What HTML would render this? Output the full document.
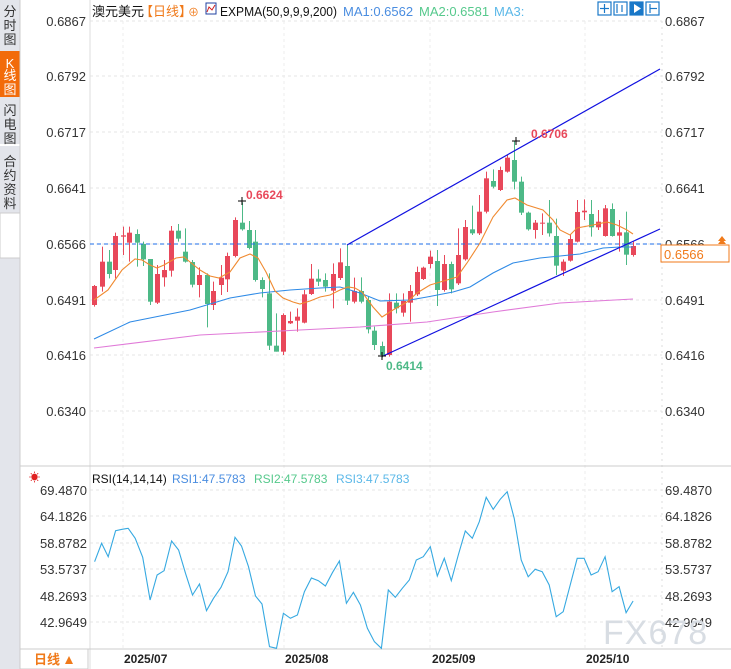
<!DOCTYPE html>
<html><head><meta charset="utf-8"><style>
body{margin:0;width:731px;height:669px;overflow:hidden;background:#fff;font-family:"Liberation Sans","Noto Sans CJK SC",sans-serif;}
svg{position:absolute;left:0;top:0}
</style></head><body>
<svg id="s" width="731" height="669" xmlns="http://www.w3.org/2000/svg" font-family="Liberation Sans, Noto Sans CJK SC, sans-serif">
<rect x="0" y="0" width="20" height="669" fill="#e3e5eb"/>
<rect x="0" y="70" width="20" height="2" fill="#fff"/>
<rect x="0" y="51" width="20" height="46" fill="#f26b0a"/>
<rect x="0" y="144" width="20" height="2" fill="#fff"/>
<rect x="0" y="213" width="20" height="45" fill="#fff" stroke="#ccc"/>
<g font-size="13" fill="#333" text-anchor="middle">
<text x="10" y="16">分</text><text x="10" y="30">时</text><text x="10" y="44">图</text>
<text x="10" y="68" fill="#fff">K</text><text x="10" y="80" fill="#fff">线</text><text x="10" y="94" fill="#fff">图</text>
<text x="10" y="115">闪</text><text x="10" y="129">电</text><text x="10" y="143">图</text>
<text x="10" y="166">合</text><text x="10" y="180">约</text><text x="10" y="194">资</text><text x="10" y="208">料</text>
</g>
<line x1="20" y1="0" x2="20" y2="669" stroke="#ccc"/>
<g id="g"></g>
<text x="92" y="16" font-size="13" fill="#111">澳元美元</text>
<text x="140" y="16" font-size="13" fill="#f07a1a">【日线】</text>
<text x="188" y="16" font-size="11" fill="#f07a1a">⊕</text>
<rect x="206" y="3" width="10" height="11" fill="#fff" stroke="#2040a0"/><polyline points="207,12 209,7 212,10 215,5" fill="none" stroke="#d02020"/>
<text x="220" y="16" font-size="13" fill="#111" textLength="117" lengthAdjust="spacingAndGlyphs">EXPMA(50,9,9,9,200)</text>
<text x="343" y="16" font-size="13" fill="#4a8de0">MA1:0.6562</text>
<text x="419" y="16" font-size="13" fill="#56c98c">MA2:0.6581</text>
<text x="494" y="16" font-size="13" fill="#5bb8e8">MA3:</text>
<g fill="none" stroke="#1a78c8" stroke-width="1.2">
<rect x="598" y="2" width="13" height="13"/><rect x="614" y="2" width="13" height="13"/><rect x="630" y="2" width="13" height="13" fill="#1a78c8"/><rect x="646" y="2" width="13" height="13"/>
</g>
<g stroke="#1a78c8" stroke-width="1.2"><line x1="604.5" y1="4" x2="604.5" y2="13"/><line x1="600" y1="8.5" x2="609" y2="8.5"/><line x1="617" y1="4" x2="617" y2="13"/><line x1="622" y1="5" x2="622" y2="12"/><line x1="650" y1="4" x2="650" y2="13"/><line x1="650" y1="8.5" x2="657" y2="8.5"/></g>
<polygon points="634,4 634,13 641,8.5" fill="#fff"/>
<text x="29" y="481" font-size="11" fill="#e02020">☀</text>
<text x="92" y="483" font-size="12" fill="#111">RSI(14,14,14)</text>
<text x="172" y="483" font-size="12" fill="#4a8de0">RSI1:47.5783</text>
<text x="254" y="483" font-size="12" fill="#56c98c">RSI2:47.5783</text>
<text x="336" y="483" font-size="12" fill="#5bb8e8">RSI3:47.5783</text>
<text x="603" y="644" font-size="34" fill="#d8dde3" letter-spacing="1">FX678</text>
<rect x="20" y="649" width="68" height="20" fill="#fff" stroke="#ccc"/>
<text x="34" y="664" font-size="13" fill="#f07a1a" font-weight="bold">日线</text>
<polygon points="65,664 69,656 73,664" fill="#f07a1a"/>
<g font-size="12" font-weight="bold" fill="#222">
<text x="124" y="663">2025/07</text><text x="285" y="663">2025/08</text><text x="432" y="663">2025/09</text><text x="586" y="663">2025/10</text>
</g>
<rect x="661" y="245" width="68" height="17" fill="#fff" stroke="#f07a1a"/>
<text x="664" y="259" font-size="13" fill="#f07a1a">0.6566</text>
<polygon points="718,241 722,236 726,241" fill="#f07a1a"/><polygon points="718,244 722,239 726,244" fill="#f07a1a"/>
</svg>
<script>
const g=document.getElementById('g');let h='';
const L=90,R=662;
const py=[21,76,132,188,244,300,355,411],pl=['0.6867','0.6792','0.6717','0.6641','0.6566','0.6491','0.6416','0.6340'];
py.forEach((y,i)=>{h+=`<line x1="${L}" y1="${y}" x2="${R}" y2="${y}" stroke="#e6e6e6" stroke-dasharray="3,3"/>`;
h+=`<text x="86" y="${y+5}" font-size="13" fill="#333" text-anchor="end">${pl[i]}</text><text x="665" y="${y+5}" font-size="13" fill="#333">${pl[i]}</text>`;});
const ry=[490,516,543,569,596,622],rl=['69.4870','64.1826','58.8782','53.5737','48.2693','42.9649'];
ry.forEach((y,i)=>{h+=`<line x1="${L}" y1="${y}" x2="${R}" y2="${y}" stroke="#e6e6e6" stroke-dasharray="3,3"/>`;
h+=`<text x="87" y="${y+5}" font-size="13" fill="#333" text-anchor="end">${rl[i]}</text><text x="665" y="${y+5}" font-size="13" fill="#333">${rl[i]}</text>`;});
[123,284,430,585].forEach(x=>{h+=`<line x1="${x}" y1="21" x2="${x}" y2="649" stroke="#ececec" stroke-dasharray="3,3"/>`;});
h+=`<line x1="${L}" y1="0" x2="${L}" y2="669" stroke="#ddd"/><line x1="${R}" y1="21" x2="${R}" y2="649" stroke="#ddd" stroke-dasharray="2,4"/>`;
h+=`<line x1="20" y1="466" x2="731" y2="466" stroke="#ccc"/><line x1="20" y1="649" x2="731" y2="649" stroke="#ccc"/>`;
const z2=[[43,1,318,375,315,380],[65,1,245,320,200,335],[86,0,245,282,210,295],[106,1,168,270,158,295],[128,1,166,170,140,225],[148,1,158,188,140,245],[170,0,162,188,148,260],[190,0,192,238,185,258],[211,0,237,365,237,375],[232,1,282,368,255,372],[253,1,270,292,240,320],[273,1,152,272,138,290],[295,0,152,176,132,185],[316,0,215,245,145,248],[337,0,246,314,240,322],[358,1,285,315,262,352],[380,0,285,372,280,442],[400,1,333,375,305,390],[422,1,293,315,255,345],[442,1,228,298,218,336],[465,1,120,228,112,232],[485,0,128,148,67,152],[506,0,150,204,123,208],[526,0,185,300,150,305],[547,0,300,327,292,352],[568,0,340,497,280,510],[589,0,497,515,400,515],[610,1,405,515,400,525],[631,1,423,430,395,432],[652,1,410,422,385,455],[673,1,343,428,330,430],[694,1,296,342,252,345],[715,0,296,305,268,318],[736,0,300,320,280,335],[758,1,282,332,250,385],[779,1,247,294,205,300],[800,0,258,362,195,375],[821,1,333,365,293,370],[842,0,333,365,292,370]];
const z4=[[23,0,540,628,530,640],[43,0,632,675,620,690],[65,0,678,705,665,712],[86,1,545,705,520,710],[107,0,548,565,520,580],[128,1,543,578,520,590],[149,1,513,548,495,605],[170,1,456,523,440,528],[190,1,443,477,440,480],[211,1,410,432,392,445],[232,0,423,510,390,558],[253,1,432,510,405,515],[274,0,432,508,425,520],[295,1,405,490,325,495],[316,1,321,418,300,422],[337,0,328,340,257,345],[358,1,275,340,225,345],[379,1,175,275,155,280],[400,0,183,200,148,205],[421,1,150,210,140,213],[441,1,113,155,105,158],[463,0,120,185,62,208],[484,0,185,278,170,285],[505,0,278,328,275,332],[526,1,308,330,300,356],[547,1,308,310,280,345],[568,0,308,340,240,350],[589,0,348,437,296,465],[610,1,425,452,418,468],[631,1,357,422,342,425],[652,1,276,365,240,367],[673,1,272,277,238,300],[694,0,282,322,240,350],[715,1,305,322,270,330],[736,1,265,348,255,350],[757,0,267,348,250,350],[778,1,337,347,300,395],[799,0,337,404,275,435],[820,1,378,405,365,410]];
function cd(x,c,bt,bb,wt,wb){const col=c?'#e8485a':'#4db987';x=Math.round(x)+.5;
h+=`<line x1="${x}" y1="${wt}" x2="${x}" y2="${wb}" stroke="${col}"/><rect x="${x-2.5}" y="${bt}" width="5" height="${Math.max(1,bb-bt)}" fill="${col}"/>`;}
z2.forEach(a=>cd(80+a[0]/3,a[1],180+a[2]/3,180+a[3]/3,180+a[4]/3,180+a[5]/3));
z4.forEach(a=>cd(360+a[0]/3,a[1],120+a[2]/3,120+a[3]/3,120+a[4]/3,120+a[5]/3));
const pl_=(p,c)=>`<polyline points="${p.map(q=>q.join(',')).join(' ')}" fill="none" stroke="${c}" stroke-width="1.1"/>`;
h+=pl_([[94,348],[200,335],[300,330],[360,327],[427,322],[493,312],[560,303],[633,299]],'#e07ad8');
h+=pl_([[94,339],[130,322],[160,316],[190,310],[230,298],[260,293],[290,290],[320,288],[340,287],[360,293],[380,301],[410,300],[427,297],[453,292],[470,287],[493,273],[513,263],[540,258],[560,256],[580,254],[603,248],[620,247],[633,247]],'#2e8ae6');
h+=pl_([[94,300],[108,290],[122,270],[135,259],[142,260],[150,265],[157,268],[164,265],[176,258],[184,257],[190,262],[200,270],[210,276],[219,278],[230,272],[240,258],[250,254],[258,258],[266,272],[275,291],[283,298],[293,302],[300,304],[310,301],[320,297],[330,295],[340,290],[348,287],[355,288],[362,292],[373,307],[382,317],[393,310],[407,302],[417,293],[430,285],[447,280],[457,277],[467,263],[480,243],[493,217],[507,200],[515,198],[527,205],[543,210],[553,220],[560,230],[570,235],[577,228],[593,225],[607,222],[617,225],[627,230],[633,234]],'#f08a30');
h+=`<line x1="90" y1="244" x2="662" y2="244" stroke="#1e6ee8" stroke-dasharray="4,3"/>`;
h+=`<line x1="347" y1="245" x2="660" y2="69" stroke="#1010e0" stroke-width="1.2"/><line x1="383" y1="356" x2="660" y2="229" stroke="#1010e0" stroke-width="1.2"/>`;
[[242,201],[516,141],[382,356]].forEach(([x,y])=>{h+=`<path d="M${x-4} ${y}h8M${x} ${y-4}v8" stroke="#000"/>`;});
h+=`<text x="246" y="199" font-size="12" font-weight="bold" fill="#e8485a">0.6624</text><text x="531" y="138" font-size="12" font-weight="bold" fill="#e8485a">0.6706</text><text x="386" y="370" font-size="12" font-weight="bold" fill="#4db987">0.6414</text>`;
const rs=[[203,305],[218,250],[232,290],[248,212],[262,208],[275,205],[290,235],[306,292],[322,420],[337,345],[352,332],[368,243],[383,270],[398,340],[413,405],[428,372],[443,452],[458,415],[474,382],[489,335],[504,232],[518,258],[533,320],[548,408],[562,432],[578,560],[593,565],[608,460],[623,475],[638,465],[653,395],[668,354],[683,362],[698,378],[713,338],[728,303],[743,430],[758,397],[773,435],[788,505],[803,545],[818,565],[833,390],[848,412],[863,385],[878,360],[893,300],[908,290],[923,260],[938,348],[953,295],[968,362],[983,285],[998,213],[1013,235],[1028,185],[1043,112],[1058,148],[1073,118],[1088,95],[1103,175],[1118,300],[1133,350],[1148,328],[1163,335],[1178,375],[1193,470],[1208,455],[1223,375],[1238,295],[1253,295],[1268,345],[1283,335],[1298,290],[1313,395],[1328,380],[1343,458],[1358,423]];
h+=pl_(rs.map(([x,y])=>[(x/2.145).toFixed(1),(460+y/3).toFixed(1)]),'#36a9e1');
g.innerHTML=h;
</script>
</body></html>
